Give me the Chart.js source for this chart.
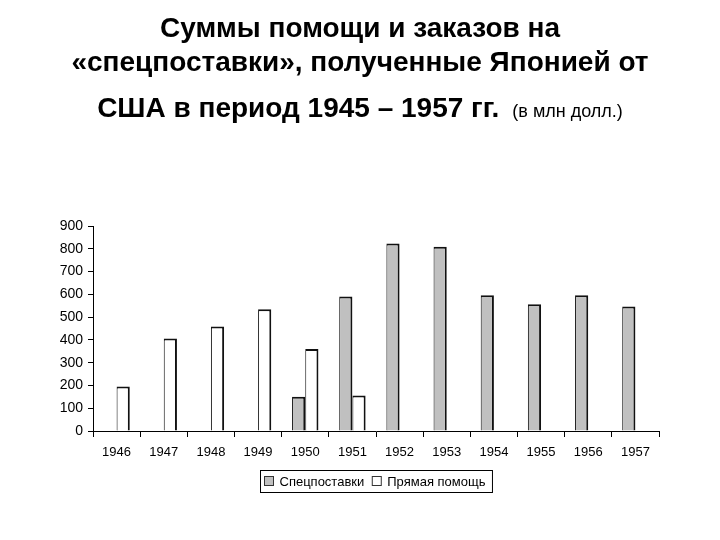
<!DOCTYPE html>
<html>
<head>
<meta charset="utf-8">
<script src="https://cdn.jsdelivr.net/npm/chart.js@4/dist/chart.umd.min.js"></script>
<style>
  body { margin: 0; background: #fff; }
  #wrap { position: relative; width: 720px; height: 540px; }
  .title { position: absolute; left: 0; width: 720px; text-align: center;
           font: bold 28px "Liberation Sans", Arial, sans-serif; color: #000; line-height: 34px; }
  .title small { font-weight: normal; font-size: 18px; margin-left: 13px; }
  canvas { position: absolute; left: 0; top: 0; }
</style>
</head>
<body>
<div id="wrap">
  <canvas id="chart" width="720" height="540"></canvas>
  <div class="title" style="top:11px">Суммы помощи и заказов на<br>«спецпоставки», полученные Японией от</div>
  <div class="title" style="top:91px">США в период 1945 – 1957 гг.<small>(в млн долл.)</small></div>
</div>
<script>
const years = ['1946', '1947', '1948', '1949', '1950', '1951', '1952', '1953', '1954', '1955', '1956', '1957'];
const specSupply = [null, null, null, null, 150, 591, 823, 809, 596, 556, 596, 547];
const directAid = [195, 406, 459, 534, 360, 156, null, null, null, null, null, null];
const yTicks = [0, 100, 200, 300, 400, 500, 600, 700, 800, 900];

const font = { family: '"Liberation Sans", Arial, sans-serif', size: 13 };

// legend in a box, like the old office chart
const boxLegend = {
  id: 'boxLegend',
  afterDraw(chart) {
    const ctx = chart.ctx;
    const items = chart.data.datasets.map(d => ({ label: d.label, color: d.backgroundColor }));
    ctx.save();
    ctx.font = font.size + 'px ' + font.family;
    let w = 4;
    items.forEach((it, i) => {
      it.w = ctx.measureText(it.label).width;
      w += 10 + 5 + it.w + (i < items.length - 1 ? 8 : 7);
    });
    const cx = (chart.chartArea.left + chart.chartArea.right) / 2;
    let x = Math.round(cx - w / 2) + 0.5;
    const y = 470.5, h = 22;
    ctx.strokeStyle = '#000';
    ctx.lineWidth = 1;
    ctx.strokeRect(x, y, w, h);
    x += 4;
    items.forEach((it, i) => {
      ctx.fillStyle = it.color;
      ctx.fillRect(x, y + 6, 9, 9);
      ctx.strokeStyle = '#333';
      ctx.strokeRect(x, y + 6, 9, 9);
      x += 15;
      ctx.fillStyle = '#000';
      ctx.textBaseline = 'middle';
      ctx.fillText(it.label, x, y + h / 2 + 1);
      x += it.w + 8;
    });
    ctx.restore();
  }
};

new Chart(document.getElementById('chart'), {
  type: 'bar',
  data: {
    labels: years,
    datasets: [{
      label: 'Спецпоставки',
      data: specSupply,
      backgroundColor: '#c0c0c0',
      borderColor: '#111',
      borderWidth: { top: 2, right: 2, left: 1, bottom: 0 },
      borderSkipped: 'bottom'
    }, {
      label: 'Прямая помощь',
      data: directAid,
      backgroundColor: '#ffffff',
      borderColor: '#111',
      borderWidth: { top: 2, right: 2, left: 1, bottom: 0 },
      borderSkipped: 'bottom'
    }]
  },
  options: {
    responsive: false,
    animation: false,
    categoryPercentage: 0.56,
    barPercentage: 1,
    layout: { padding: { top: 226, right: 61, bottom: 79, left: 0 } },
    plugins: {
      legend: { display: false },
      tooltip: { enabled: false }
    },
    scales: {
      x: {
        grid: { display: true, drawOnChartArea: false, drawTicks: true, tickLength: 6, color: '#000', offset: true },
        border: { display: true, color: '#000', width: 1 },
        ticks: { color: '#000', font: font, padding: 8, maxRotation: 0 },
        afterFit(scale) { scale.height = 30; }
      },
      y: {
        min: 0,
        max: 900,
        grid: { display: true, drawOnChartArea: false, drawTicks: true, tickLength: 5, color: '#000' },
        border: { display: true, color: '#000', width: 1 },
        afterBuildTicks(scale) { scale.ticks = yTicks.map(v => ({ value: v })); },
        ticks: { color: '#000', font: { family: font.family, size: 14 }, padding: 5 },
        afterFit(scale) { scale.width = 93; }
      }
    }
  },
  plugins: [boxLegend]
});
</script>
</body>
</html>
